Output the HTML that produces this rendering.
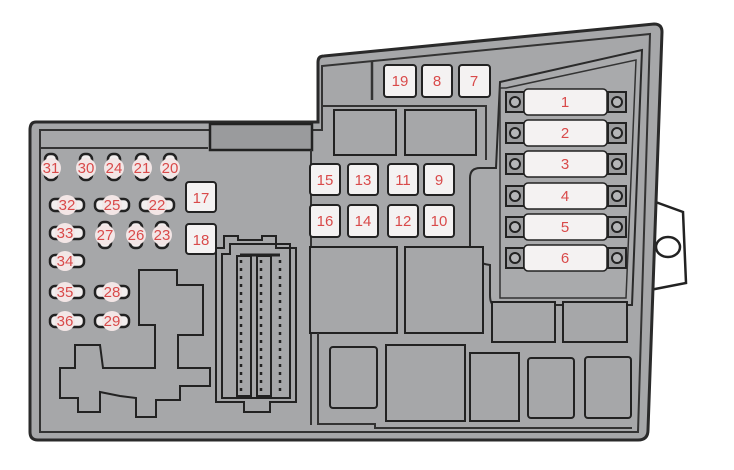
<!DOCTYPE html>
<html><head><style>body{margin:0;background:#fff}svg{display:block}</style></head><body>
<svg width="734" height="470" viewBox="0 0 734 470" xmlns="http://www.w3.org/2000/svg" font-family="Liberation Sans, sans-serif">
<!-- tab -->
<path d="M650,200 L683,212 L686,283 L650,290 Z" fill="#fff" stroke="#222" stroke-width="2.5"/>
<ellipse cx="668" cy="247" rx="12" ry="10" fill="#fff" stroke="#222" stroke-width="2.5"/>
<!-- body -->
<path d="M36,122 L318,122 L318,62 Q318,56 324,56 L654,24 Q662,24 662,32 L648,430 Q648,440 638,440 L38,440 Q30,440 30,432 L30,130 Q30,122 36,122 Z" fill="#a6a7a9" stroke="#2a2a2a" stroke-width="3"/>
<path d="M42,130 L322,130 L322,66 L650,34 L638,432 L40,432 L40,130 Z" fill="none" stroke="#333" stroke-width="2"/>
<line x1="40" y1="148" x2="208" y2="148" stroke="#333" stroke-width="2"/>
<rect x="210" y="124" width="102" height="26" fill="#9a9b9d" stroke="#222" stroke-width="2.5"/>
<line x1="311" y1="150" x2="311" y2="425" stroke="#333" stroke-width="2"/>
<line x1="372" y1="62" x2="372" y2="100" stroke="#333" stroke-width="2.5"/>
<path d="M322,106 L486,106 L486,160" fill="none" stroke="#333" stroke-width="2"/>
<!-- right fuse area -->
<path d="M500,82 L642,50 L632,305 L495,305 Q490,305 490,295 L490,265 Q470,262 470,250 L470,178 Q470,168 480,168 L496,168 Z" fill="#a9aaac" stroke="#2a2a2a" stroke-width="2"/>
<path d="M506,88 L636,60 L626,298 L500,298 L500,88 Z" fill="none" stroke="#333" stroke-width="1.5"/>
<g stroke="#222" stroke-width="2">
<rect x="334" y="110" width="62" height="45" fill="#a6a7a9"/>
<rect x="405" y="110" width="71" height="45" fill="#a6a7a9"/>
<rect x="310" y="247" width="87" height="86" fill="#a6a7a9"/>
<rect x="405" y="247" width="78" height="86" fill="#a6a7a9"/>
<rect x="492" y="302" width="63" height="40" fill="#a6a7a9"/>
<rect x="563" y="302" width="64" height="40" fill="#a6a7a9"/>
<rect x="330" y="347" width="47" height="61" rx="3" fill="#a6a7a9"/>
<rect x="386" y="345" width="79" height="76" fill="#a6a7a9"/>
<rect x="470" y="353" width="49" height="68" fill="#a6a7a9"/>
<rect x="528" y="358" width="46" height="60" rx="3" fill="#a6a7a9"/>
<rect x="585" y="357" width="46" height="61" rx="3" fill="#a6a7a9"/>
</g>
<path d="M318,333 L318,424 L375,424 L375,428 L632,428" fill="none" stroke="#333" stroke-width="2"/>
<!-- big fuses -->
<g stroke="#222" stroke-width="2">
<g fill="#9c9d9f">
<rect x="506" y="92" width="18" height="20"/><rect x="608" y="92" width="18" height="20"/>
<rect x="506" y="123" width="18" height="20"/><rect x="608" y="123" width="18" height="20"/>
<rect x="506" y="154" width="18" height="20"/><rect x="608" y="154" width="18" height="20"/>
<rect x="506" y="186" width="18" height="20"/><rect x="608" y="186" width="18" height="20"/>
<rect x="506" y="217" width="18" height="20"/><rect x="608" y="217" width="18" height="20"/>
<rect x="506" y="248" width="18" height="20"/><rect x="608" y="248" width="18" height="20"/>
</g>
<g fill="#b5b6b8">
<circle cx="515" cy="102" r="5"/><circle cx="617" cy="102" r="5"/>
<circle cx="515" cy="133" r="5"/><circle cx="617" cy="133" r="5"/>
<circle cx="515" cy="164" r="5"/><circle cx="617" cy="164" r="5"/>
<circle cx="515" cy="196" r="5"/><circle cx="617" cy="196" r="5"/>
<circle cx="515" cy="227" r="5"/><circle cx="617" cy="227" r="5"/>
<circle cx="515" cy="258" r="5"/><circle cx="617" cy="258" r="5"/>
</g>
<g fill="#f4f2f2" stroke-width="1.5">
<rect x="524" y="89" width="83" height="26" rx="4"/>
<rect x="524" y="120" width="83" height="26" rx="4"/>
<rect x="524" y="151" width="83" height="26" rx="4"/>
<rect x="524" y="183" width="83" height="26" rx="4"/>
<rect x="524" y="214" width="83" height="26" rx="4"/>
<rect x="524" y="245" width="83" height="26" rx="4"/>
</g>
<g fill="#f4f2f2">
<rect x="384" y="65" width="32" height="32" rx="3"/>
<rect x="422" y="65" width="30" height="32" rx="3"/>
<rect x="459" y="65" width="31" height="32" rx="3"/>
<rect x="310" y="164" width="30" height="31" rx="3"/>
<rect x="348" y="164" width="30" height="31" rx="3"/>
<rect x="388" y="164" width="30" height="31" rx="3"/>
<rect x="424" y="164" width="30" height="31" rx="3"/>
<rect x="310" y="205" width="30" height="32" rx="3"/>
<rect x="348" y="205" width="30" height="32" rx="3"/>
<rect x="388" y="205" width="30" height="32" rx="3"/>
<rect x="424" y="205" width="30" height="32" rx="3"/>
<rect x="186" y="182" width="30" height="30" rx="3"/>
<rect x="186" y="224" width="30" height="30" rx="3"/>
</g>
</g>
<!-- connector -->
<g fill="none" stroke="#222" stroke-width="2">
<path d="M216,248 L224,248 L224,236 L238,236 L238,240 L262,240 L262,236 L276,236 L276,248 L296,248 L296,402 L270,402 L270,412 L244,412 L244,402 L216,402 Z"/>
<path d="M222,254 L230,254 L230,244 L290,244 L290,398 L222,398 Z"/>
<rect x="237" y="256" width="14" height="140"/>
<rect x="257" y="256" width="14" height="140"/>
<line x1="240" y1="255" x2="280" y2="255" stroke-width="3"/>
</g>
<g stroke="#222" stroke-width="2.5" stroke-dasharray="3 5">
<line x1="241" y1="260" x2="241" y2="392"/><line x1="261" y1="260" x2="261" y2="392"/><line x1="280" y1="260" x2="280" y2="392"/>
</g>
<!-- left puzzle -->
<path d="M139,270 L177,270 L177,285 L203,285 L203,335 L178,335 L178,368 L210,368 L210,386 L180,386 L180,400 L156,400 L156,417 L136,417 L136,398 L120,396 L100,392 L100,412 L78,412 L78,398 L60,398 L60,368 L75,368 L75,345 L100,345 L103,368 L155,368 L155,325 L139,325 Z" fill="none" stroke="#222" stroke-width="2"/>
<!-- left small fuses -->
<g fill="#f2eeee" stroke="#222" stroke-width="2.5">
<rect x="45" y="154" width="12" height="26" rx="5"/><rect x="80" y="154" width="12" height="26" rx="5"/>
<rect x="108" y="154" width="12" height="26" rx="5"/><rect x="136" y="154" width="12" height="26" rx="5"/>
<rect x="164" y="154" width="12" height="26" rx="5"/>
<rect x="50" y="199" width="34" height="12" rx="5"/><rect x="95" y="199" width="34" height="12" rx="5"/><rect x="140" y="199" width="34" height="12" rx="5"/>
<rect x="50" y="227" width="34" height="12" rx="5"/>
<rect x="99" y="222" width="12" height="26" rx="5"/><rect x="130" y="222" width="12" height="26" rx="5"/><rect x="156" y="222" width="12" height="26" rx="5"/>
<rect x="50" y="255" width="34" height="12" rx="5"/>
<rect x="50" y="286" width="34" height="12" rx="5"/><rect x="95" y="286" width="34" height="12" rx="5"/>
<rect x="50" y="315" width="34" height="12" rx="5"/><rect x="95" y="315" width="34" height="12" rx="5"/>
</g>
<g fill="#f3e6e6">
<circle cx="51" cy="168" r="10"/><circle cx="86" cy="168" r="10"/><circle cx="114" cy="168" r="10"/><circle cx="142" cy="168" r="10"/><circle cx="170" cy="168" r="10"/>
<circle cx="67" cy="205" r="10"/><circle cx="112" cy="205" r="10"/><circle cx="157" cy="205" r="10"/>
<circle cx="65" cy="233" r="10"/><circle cx="105" cy="235" r="10"/><circle cx="136" cy="235" r="10"/><circle cx="162" cy="235" r="10"/>
<circle cx="65" cy="261" r="10"/>
<circle cx="65" cy="292" r="10"/><circle cx="112" cy="292" r="10"/>
<circle cx="65" cy="321" r="10"/><circle cx="112" cy="321" r="10"/>
</g>
<g fill="#d94a4a" font-size="15" text-anchor="middle">
<text x="565" y="107">1</text><text x="565" y="138">2</text><text x="565" y="169">3</text><text x="565" y="201">4</text><text x="565" y="232">5</text><text x="565" y="263">6</text>
<text x="400" y="86">19</text><text x="437" y="86">8</text><text x="474" y="86">7</text>
<text x="325" y="185">15</text><text x="363" y="185">13</text><text x="403" y="185">11</text><text x="439" y="185">9</text>
<text x="325" y="226">16</text><text x="363" y="226">14</text><text x="403" y="226">12</text><text x="439" y="226">10</text>
<text x="201" y="203">17</text><text x="201" y="245">18</text>
<text x="51" y="173">31</text><text x="86" y="173">30</text><text x="114" y="173">24</text><text x="142" y="173">21</text><text x="170" y="173">20</text>
<text x="67" y="210">32</text><text x="112" y="210">25</text><text x="157" y="210">22</text>
<text x="65" y="238">33</text><text x="105" y="240">27</text><text x="136" y="240">26</text><text x="162" y="240">23</text>
<text x="65" y="266">34</text>
<text x="65" y="297">35</text><text x="112" y="297">28</text>
<text x="65" y="326">36</text><text x="112" y="326">29</text>
</g>
</svg>
</body></html>
